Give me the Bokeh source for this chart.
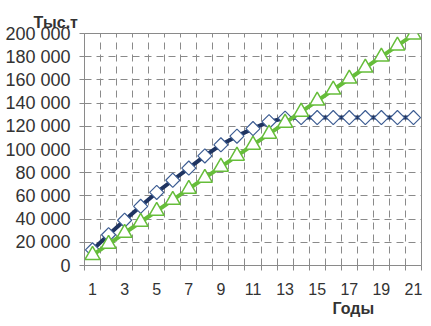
import numpy as np
from bokeh.plotting import figure
from bokeh.models import Range1d, FixedTicker, Title
from bokeh.embed import file_html
from bokeh.resources import INLINE

years = list(range(1, 22))
series_blue = [13500, 26500, 39000, 51000, 63000, 73500, 84000, 94500, 104000, 111500,
               118000, 124000, 127000, 127500, 127500, 127500, 127500, 127500, 127500,
               127500, 127500]
series_green = [9000, 18500, 28000, 37500, 47000, 56500, 66000, 75500, 85000, 94500,
                104000, 113500, 123000, 132500, 142000, 151500, 161000, 170500, 180000,
                189500, 199000]
x_tick_labels = [1, 3, 5, 7, 9, 11, 13, 15, 17, 19, 21]
y_ticks = [0, 20000, 40000, 60000, 80000, 100000, 120000, 140000, 160000, 180000, 200000]
y_tick_labels = ["0", "20 000", "40 000", "60 000", "80 000", "100 000", "120 000",
                 "140 000", "160 000", "180 000", "200 000"]
y_title = "Тыс.т"
x_title = "Годы"

FONT = "Liberation Sans"
GRID = "#8a8a8a"
TXT = "#333333"

p = figure(width=431, height=326, output_backend="svg", toolbar_location=None,
           x_range=Range1d(0.5, 21.5), y_range=Range1d(0, 200000),
           min_border_left=84, min_border_right=10, min_border_top=33, min_border_bottom=61)
p.outline_line_color = GRID
p.outline_line_width = 1
p.background_fill_color = "white"
p.border_fill_color = "white"

# title (y units) at top-left
p.title.text = y_title
p.title.align = "left"
p.title.offset = -51
p.title.standoff = 6
p.title.text_font = FONT
p.title.text_font_style = "bold"
p.title.text_font_size = "16px"
p.title.text_color = TXT

# axes
xa = p.xaxis[0]
xa.ticker = FixedTicker(ticks=x_tick_labels, minor_ticks=[i + 0.5 for i in range(0, 22)])
xa.major_tick_line_color = None
xa.major_tick_out = 5
xa.major_tick_in = 0
xa.minor_tick_line_color = GRID
xa.minor_tick_out = 5
xa.minor_tick_in = 0
xa.axis_line_color = GRID
xa.major_label_standoff = 12
xa.major_label_text_font = FONT
xa.major_label_text_font_size = "16px"
xa.major_label_text_color = TXT

ya = p.yaxis[0]
ya.ticker = FixedTicker(ticks=y_ticks)
ya.major_label_overrides = {t: l for t, l in zip(y_ticks, y_tick_labels)}
ya.major_tick_line_color = GRID
ya.major_tick_out = 5
ya.major_tick_in = 0
ya.minor_tick_line_color = None
ya.axis_line_color = GRID
ya.major_label_standoff = 9
ya.major_label_text_font = FONT
ya.major_label_text_font_size = "18px"
ya.major_label_text_color = TXT

# grids
p.xgrid.ticker = FixedTicker(ticks=[i + 0.5 for i in range(1, 21)])
p.xgrid.grid_line_color = GRID
p.xgrid.grid_line_dash = "7 5"
p.ygrid.ticker = FixedTicker(ticks=y_ticks[1:-1])
p.ygrid.grid_line_color = GRID
p.ygrid.grid_line_dash = "7 5"

# series
p.line(years, series_blue, line_color="#1f3461", line_width=4)
p.scatter(years, series_blue, marker="square", angle=np.pi / 4, size=10,
          fill_color="white", line_color="#3d5d93", line_width=1.2)
p.line(years, series_green, line_color="#66bd3a", line_width=4)
p.scatter(years, series_green, marker="triangle", size=15,
          fill_color="white", line_color="#66bd3a", line_width=1.5)

# x title below, right part
xt = Title(text=x_title, align="left", offset=248, standoff=0,
           text_font=FONT, text_font_style="bold", text_font_size="16px",
           text_color=TXT)
p.add_layout(xt, "below")

open("out.html", "w").write(file_html(p, INLINE))
